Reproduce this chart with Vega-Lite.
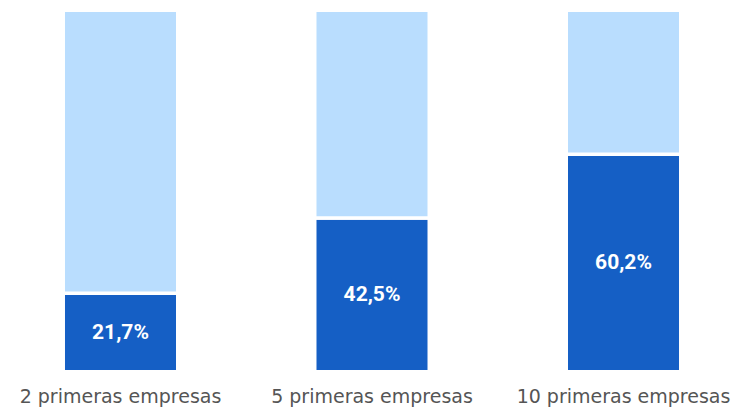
{
  "$schema": "https://vega.github.io/schema/vega-lite/v6.json",
  "width": 722,
  "height": 361.5,
  "padding": {"left": 11, "top": 10.25, "right": 0, "bottom": 36.25},
  "autosize": {"type": "none"},
  "config": {"view": {"stroke": null}, "font": "DejaVu Sans"},
  "data": {"values": [
    {"grupo": "2 primeras empresas", "parte": "cuota", "orden": 1, "valor": 21.7, "texto": "21,7%"},
    {"grupo": "2 primeras empresas", "parte": "resto", "orden": 2, "valor": 78.3, "texto": ""},
    {"grupo": "5 primeras empresas", "parte": "cuota", "orden": 1, "valor": 42.5, "texto": "42,5%"},
    {"grupo": "5 primeras empresas", "parte": "resto", "orden": 2, "valor": 57.5, "texto": ""},
    {"grupo": "10 primeras empresas", "parte": "cuota", "orden": 1, "valor": 60.2, "texto": "60,2%"},
    {"grupo": "10 primeras empresas", "parte": "resto", "orden": 2, "valor": 39.8, "texto": ""}
  ]},
  "encoding": {
    "x": {"field": "grupo", "type": "nominal", "sort": null,
      "scale": {"paddingInner": 0.5447, "paddingOuter": 0.2077},
      "axis": {"title": null, "domain": false, "ticks": false, "labelAngle": 0, "labelFontSize": 19, "labelColor": "#555555", "labelPadding": 16, "labelLimit": 0, "labelFont": "DejaVu Sans", "labelBaseline": "top", "labelOverlap": false}}
  },
  "layer": [
    {
      "mark": {"type": "bar", "stroke": "white", "strokeWidth": 3.5},
      "encoding": {
        "y": {"field": "valor", "type": "quantitative", "stack": "zero", "scale": {"domain": [0, 100], "nice": false}, "axis": null},
        "order": {"field": "orden"},
        "color": {"field": "parte", "type": "nominal", "scale": {"domain": ["cuota", "resto"], "range": ["#155FC5", "#B9DDFE"]}, "legend": null}
      }
    },
    {
      "transform": [{"filter": "datum.parte == 'cuota'"}, {"calculate": "datum.valor / 2", "as": "medio"}],
      "mark": {"type": "text", "color": "white", "fontSize": 21, "fontWeight": "bold", "font": "Roboto", "baseline": "middle"},
      "encoding": {
        "y": {"field": "medio", "type": "quantitative", "scale": {"domain": [0, 100], "nice": false}},
        "text": {"field": "texto"}
      }
    }
  ]
}
